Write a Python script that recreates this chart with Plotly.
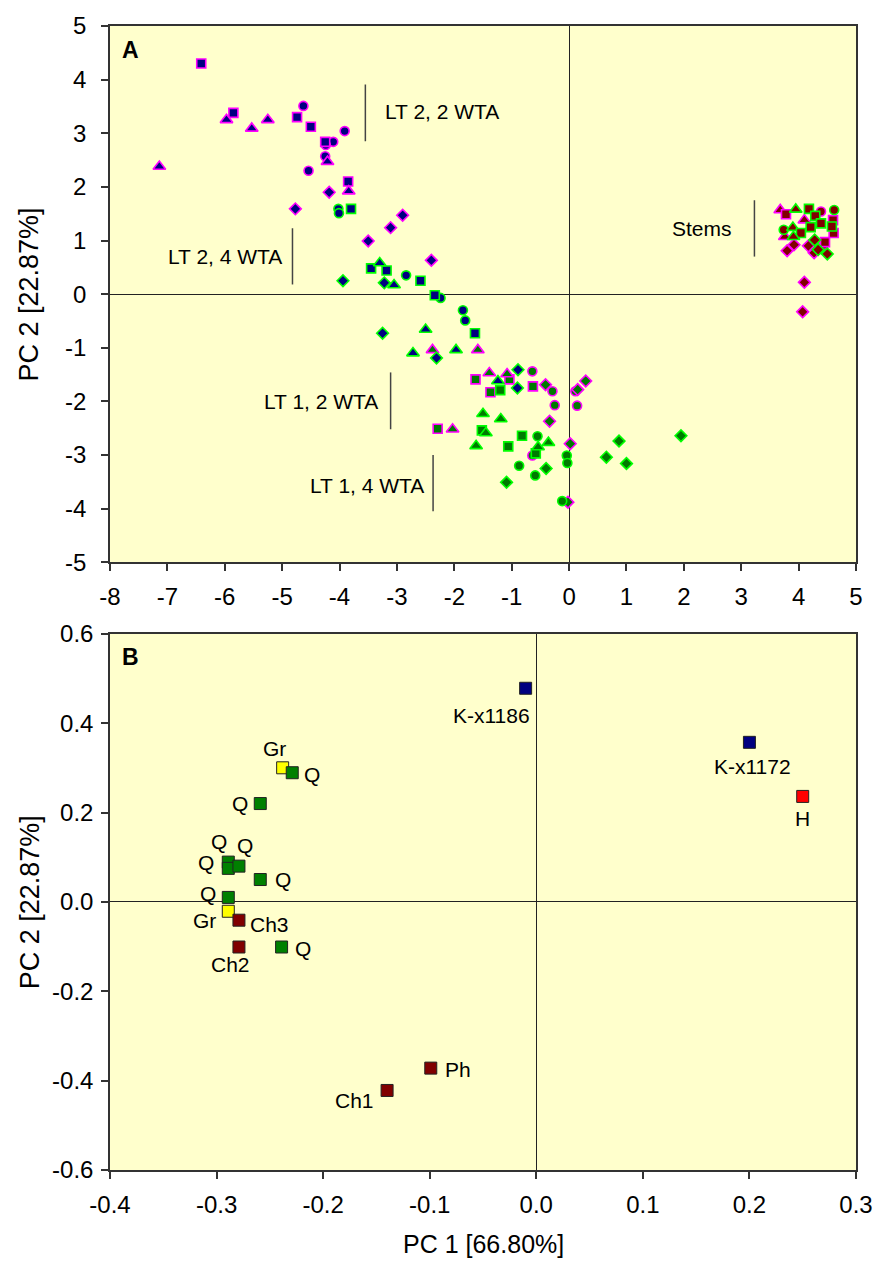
import plotly.graph_objects as go

# ---------------- Panel A data ----------------
lt2_2wta_x = [-4.63, -4.54, -3.91, -4.11, -4.25, -4.24,
              -6.41, -5.85, -4.74, -4.50, -4.25, -3.85,
              -7.14, -5.97, -5.53, -5.25, -4.21, -3.84,
              -4.77, -4.18, -2.90, -3.11, -3.50, -2.40]
lt2_2wta_y = [3.51, 2.30, 3.04, 2.84, 2.57, 2.78,
              4.30, 3.38, 3.30, 3.12, 2.84, 2.10,
              2.38, 3.25, 3.09, 3.25, 2.47, 1.92,
              1.59, 1.90, 1.47, 1.24, 0.99, 0.63]
lt2_2wta_shape = ["circle"] * 6 + ["square"] * 6 + ["triangle-up"] * 6 + ["diamond"] * 6

lt2_4wta_x = [-4.02, -4.01, -2.84, -2.24, -1.85, -1.81,
              -3.80, -3.45, -3.18, -2.59, -2.34, -1.64,
              -3.30, -3.05, -2.50, -2.72, -1.97, -1.24,
              -3.94, -3.22, -3.25, -2.31, -0.89, -0.90]
lt2_4wta_y = [1.59, 1.51, 0.35, -0.07, -0.30, -0.49,
              1.59, 0.48, 0.44, 0.25, -0.02, -0.73,
              0.58, 0.17, -0.66, -1.10, -1.04, -1.62,
              0.25, 0.21, -0.73, -1.19, -1.41, -1.75]
lt2_4wta_shape = ["circle"] * 6 + ["square"] * 6 + ["triangle-up"] * 6 + ["diamond"] * 6

lt1_2wta_x = [-0.64, -0.29, -0.25, 0.11, 0.14, -0.64,
              -1.63, -1.04, -1.37, -0.63, -2.29,
              -2.38, -1.59, -1.39, -1.08, -2.03,
              -0.41, 0.15, 0.29, -0.34, 0.02, -0.02]
lt1_2wta_y = [-1.44, -1.81, -2.07, -1.81, -2.08, -3.01,
              -1.59, -1.59, -1.83, -1.72, -2.51,
              -1.04, -1.04, -1.47, -1.49, -2.52,
              -1.69, -1.78, -1.62, -2.37, -2.79, -3.88]
lt1_2wta_shape = ["circle"] * 6 + ["square"] * 5 + ["triangle-up"] * 5 + ["diamond"] * 6

lt1_4wta_x = [-0.55, -0.04, -0.03, -0.87, -0.59, -0.12,
              -1.20, -1.52, -0.82, -1.06, -0.58,
              -1.50, -1.19, -1.45, -1.62, -0.36, -0.54,
              -0.40, -1.09, 0.87, 0.65, 1.00, 1.95]
lt1_4wta_y = [-2.65, -3.01, -3.15, -3.20, -3.38, -3.86,
              -1.79, -2.54, -2.64, -2.84, -2.97,
              -2.23, -2.33, -2.59, -2.83, -2.77, -2.85,
              -3.25, -3.51, -2.74, -3.04, -3.16, -2.64]
lt1_4wta_shape = ["circle"] * 6 + ["square"] * 5 + ["triangle-up"] * 6 + ["diamond"] * 6

stems_2wta_x = [3.68, 3.78, 4.39, 4.60, 4.10, 4.61, 3.76, 3.80, 3.92, 4.17, 4.27, 4.44, 4.46, 4.10, 4.07]
stems_2wta_y = [1.57, 1.49, 1.54, 1.38, 1.38, 1.14, 1.07, 0.81, 0.92, 0.90, 0.77, 0.92, 0.97, 0.22, -0.33]
stems_2wta_shape = ["triangle-up", "square", "circle", "square", "triangle-up", "square", "triangle-up",
                    "diamond", "diamond", "diamond", "diamond", "circle", "square", "diamond", "diamond"]

stems_4wta_x = [3.95, 4.18, 4.62, 4.29, 4.39, 4.21, 4.58, 3.74, 3.90, 4.04, 3.91, 4.28, 4.34, 4.50]
stems_4wta_y = [1.58, 1.59, 1.57, 1.46, 1.32, 1.25, 1.26, 1.20, 1.24, 1.14, 1.07, 1.01, 0.83, 0.75]
stems_4wta_shape = ["triangle-up", "square", "circle", "square", "square", "square", "square", "circle",
                    "triangle-up", "square", "triangle-up", "diamond", "diamond", "diamond"]

# ---------------- Panel B data ----------------
labels_b = ["K-x1186", "K-x1172", "H", "Gr", "Q", "Q", "Q", "Q", "Q", "Q", "Q",
            "Gr", "Ch3", "Ch2", "Q", "Ph", "Ch1"]
pc1_b = [-0.010, 0.200, 0.250, -0.238, -0.229, -0.259, -0.289, -0.289, -0.279, -0.259, -0.289,
         -0.289, -0.279, -0.279, -0.239, -0.099, -0.140]
pc2_b = [0.478, 0.357, 0.236, 0.300, 0.289, 0.220, 0.089, 0.075, 0.080, 0.050, 0.010,
         -0.021, -0.041, -0.101, -0.101, -0.372, -0.422]

xticks_a = [-8, -7, -6, -5, -4, -3, -2, -1, 0, 1, 2, 3, 4, 5]
xticklabels_a = ["-8", "-7", "-6", "-5", "-4", "-3", "-2", "-1", "0", "1", "2", "3", "4", "5"]
yticks_a = [-5, -4, -3, -2, -1, 0, 1, 2, 3, 4, 5]
yticklabels_a = ["-5", "-4", "-3", "-2", "-1", "0", "1", "2", "3", "4", "5"]
xticks_b = [-0.4, -0.3, -0.2, -0.1, 0.0, 0.1, 0.2, 0.3]
xticklabels_b = ["-0.4", "-0.3", "-0.2", "-0.1", "0.0", "0.1", "0.2", "0.3"]
yticks_b = [-0.6, -0.4, -0.2, 0.0, 0.2, 0.4, 0.6]
yticklabels_b = ["-0.6", "-0.4", "-0.2", "0.0", "0.2", "0.4", "0.6"]

# ---------------- styles ----------------
NAVY = "#000080"
DKGREEN = "#007a00"
DKRED = "#800000"
MAGENTA = "#FF00FF"
LGREEN = "#00FF00"
AXC = "#333333"
FONT = "Liberation Sans, Arial, sans-serif"
SYMBOL_SIZE = {"circle": 9, "square": 9, "triangle-up": 11, "diamond": 9}

fig = go.Figure()

def add_group(xs, ys, shapes, fill, outline):
    fig.add_trace(go.Scatter(
        x=xs, y=ys, mode="markers", xaxis="x", yaxis="y",
        marker=dict(symbol=shapes, size=[SYMBOL_SIZE[s] for s in shapes], color=fill,
                    opacity=1, line=dict(color=outline, width=1.6)),
        hoverinfo="skip"))

add_group(lt2_2wta_x, lt2_2wta_y, lt2_2wta_shape, NAVY, MAGENTA)
add_group(lt1_2wta_x, lt1_2wta_y, lt1_2wta_shape, DKGREEN, MAGENTA)
add_group(stems_2wta_x, stems_2wta_y, stems_2wta_shape, DKRED, MAGENTA)
add_group(lt2_4wta_x, lt2_4wta_y, lt2_4wta_shape, NAVY, LGREEN)
add_group(lt1_4wta_x, lt1_4wta_y, lt1_4wta_shape, DKGREEN, LGREEN)
add_group(stems_4wta_x, stems_4wta_y, stems_4wta_shape, DKRED, LGREEN)

# Panel B
def color_for(lbl):
    if lbl.startswith("K-"):
        return NAVY
    if lbl == "H":
        return "#FF0000"
    if lbl == "Gr":
        return "#FFFF00"
    if lbl == "Q":
        return "#008000"
    return DKRED

draw_order = [3, 11, 0, 1, 2, 4, 5, 6, 7, 8, 9, 10, 12, 13, 14, 15, 16]
fig.add_trace(go.Scatter(
    x=[pc1_b[i] for i in draw_order], y=[pc2_b[i] for i in draw_order],
    mode="markers", xaxis="x2", yaxis="y2",
    marker=dict(symbol="square", size=12, opacity=1,
                color=[color_for(labels_b[i]) for i in draw_order],
                line=dict(color="#222222", width=1)),
    hoverinfo="skip"))

# label placement (xanchor, dx px, dy px downward)
label_pos = [("right", 6, 27), ("center", 3, 24), ("center", 0, 22), ("center", -8, -19),
             ("left", 10, 2), ("right", -10, 0), ("center", -9, -21), ("right", -12, -6),
             ("center", 6, -21), ("left", 13, 0), ("right", -10, -4), ("right", -10, 9),
             ("left", 9, 4), ("center", -8, 17), ("left", 11, 1), ("left", 12, 1), ("right", -11, 10)]

annotations = []
for i, lbl in enumerate(labels_b):
    xa, dx, dy = label_pos[i]
    annotations.append(dict(x=pc1_b[i], y=pc2_b[i], xref="x2", yref="y2", text=lbl,
                            showarrow=False, xanchor=xa, yanchor="middle",
                            xshift=dx, yshift=-dy, font=dict(size=21, family=FONT, color="black")))

# Panel A group labels
group_labels = [("LT 2, 2 WTA", -3.25, 3.41, "left"),
                ("LT 2, 4 WTA", -4.96, 0.70, "right"),
                ("LT 1, 2 WTA", -3.30, -2.00, "right"),
                ("LT 1, 4 WTA", -2.50, -3.56, "right"),
                ("Stems", 2.88, 1.23, "right")]
for txt, gx, gy, xa in group_labels:
    annotations.append(dict(x=gx, y=gy, xref="x", yref="y", text=txt, showarrow=False,
                            xanchor=xa, yanchor="middle", font=dict(size=21, family=FONT, color="black")))

shapes = []
bracket_lines = [(-3.55, 2.85, 3.91), (-4.82, 0.18, 1.23), (-3.11, -2.52, -1.46),
                 (-2.37, -4.05, -3.00), (3.23, 0.70, 1.75)]
for bx, y0, y1 in bracket_lines:
    shapes.append(dict(type="line", xref="x", yref="y", x0=bx, x1=bx, y0=y0, y1=y1,
                       line=dict(color="#444444", width=1.5)))

# panel letters
annotations.append(dict(x=0.027, y=0.956, xref="x domain", yref="y domain", text="<b>A</b>",
                        showarrow=False, xanchor="center", yanchor="middle",
                        font=dict(size=23, family=FONT, color="black")))
annotations.append(dict(x=0.027, y=0.957, xref="x2 domain", yref="y2 domain", text="<b>B</b>",
                        showarrow=False, xanchor="center", yanchor="middle",
                        font=dict(size=23, family=FONT, color="black")))

# axis titles
annotations.append(dict(x=-0.108, y=0.7656, xref="paper", yref="paper", text="PC 2 [22.87%]",
                        textangle=-90, showarrow=False, xanchor="center", yanchor="middle",
                        font=dict(size=27, family=FONT, color="black")))
annotations.append(dict(x=-0.108, y=0.2344, xref="paper", yref="paper", text="PC 2 [22.87%]",
                        textangle=-90, showarrow=False, xanchor="center", yanchor="middle",
                        font=dict(size=27, family=FONT, color="black")))
annotations.append(dict(x=0.5, y=-0.0651, xref="paper", yref="paper", text="PC 1 [66.80%]",
                        showarrow=False, xanchor="center", yanchor="middle",
                        font=dict(size=25, family=FONT, color="black")))

axis_common = dict(showgrid=False, zeroline=True, zerolinecolor="#222222", zerolinewidth=1,
                   showline=True, mirror=True, linecolor=AXC, linewidth=1.5,
                   ticks="outside", ticklen=7, tickwidth=1.5, tickcolor=AXC,
                   tickfont=dict(size=24, family=FONT, color="black"), tickmode="array")

fig.update_layout(
    width=885, height=1262,
    margin=dict(l=110, r=22, t=18, b=92),
    paper_bgcolor="white", plot_bgcolor="#FFFFCC",
    showlegend=False,
    font=dict(family=FONT, color="black"),
    xaxis=dict(domain=[0, 1], range=[-8, 5], anchor="y", tickvals=xticks_a, ticktext=xticklabels_a,
               ticklabelstandoff=5, **axis_common),
    yaxis=dict(domain=[0.53125, 1], range=[-5, 5], anchor="x", tickvals=yticks_a, ticktext=yticklabels_a,
               ticklabelstandoff=10, **axis_common),
    xaxis2=dict(domain=[0, 1], range=[-0.4, 0.3], anchor="y2", tickvals=xticks_b, ticktext=xticklabels_b,
                ticklabelstandoff=5, **axis_common),
    yaxis2=dict(domain=[0, 0.46875], range=[-0.6, 0.6], anchor="x2", tickvals=yticks_b, ticktext=yticklabels_b,
                ticklabelstandoff=3, **axis_common),
    annotations=annotations,
    shapes=shapes,
)

fig.write_html("out.html")
